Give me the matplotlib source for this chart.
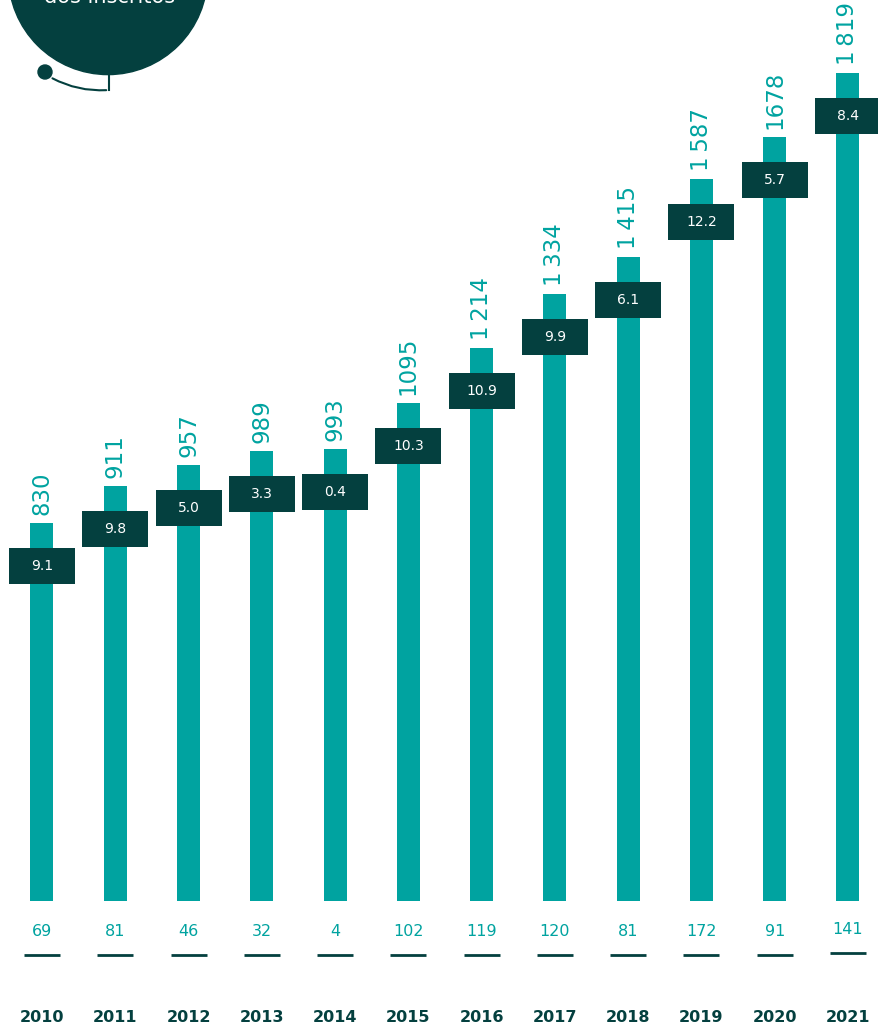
import numpy as np
import matplotlib.pyplot as plt
from matplotlib.patches import Circle, FancyArrowPatch

anos = ["2010", "2011", "2012", "2013", "2014", "2015", "2016", "2017", "2018", "2019", "2020", "2021"]
inscritos = [830, 911, 957, 989, 993, 1095, 1214, 1334, 1415, 1587, 1678, 1819]
rotulos = ["830", "911", "957", "989", "993", "1095", "1\u2009214", "1\u2009334", "1\u2009415",
           "1\u2009587", "1678", "1\u2009819"]
variacao = ["9.1", "9.8", "5.0", "3.3", "0.4", "10.3", "10.9", "9.9", "6.1", "12.2", "5.7", "8.4"]
novos = [69, 81, 46, 32, 4, 102, 119, 120, 81, 172, 91, 141]

TEAL = "#00a3a0"
DARK = "#04403f"

W, H = 879, 1026
fig = plt.figure(figsize=(W / 100, H / 100), dpi=100)
ax = fig.add_axes([0, 0, 1, 1])

# pixel geometry of the reference
step = 73.27
ppu = 0.4552  # pixels per unit
x0, base = 42, 901
ax.set_xlim(-x0 / step, (W - x0) / step)
ax.set_ylim(-(H - base) / ppu, base / ppu)
ax.axis("off")

x = np.arange(len(anos))
ax.bar(x, inscritos, width=23 / step, color=TEAL, zorder=1)

box_h = 36 / ppu
box_top = np.array(inscritos) - 25 / ppu
ax.bar(x, box_h, bottom=box_top - box_h, width=66 / step, color=DARK, zorder=2)

for i in range(len(anos)):
    ax.text(x[i], inscritos[i] + 8 / ppu, rotulos[i], rotation=90, ha="center", va="bottom",
            color=TEAL, fontsize=16.5, family="DejaVu Sans")
    ax.text(x[i], box_top[i] - box_h / 2, variacao[i], ha="center", va="center",
            color="white", fontsize=10)
    dy = 2 if i == len(anos) - 1 else 0
    ax.text(x[i], -(932 - dy - base) / ppu, str(novos[i]), ha="center", va="center",
            color=TEAL, fontsize=11.5)
    ax.hlines(-(955 - dy - base) / ppu, x[i] - 18 / step, x[i] + 18 / step, color=DARK, lw=2)
    ax.text(x[i], -(1017 - base) / ppu, anos[i], ha="center", va="center",
            color=DARK, fontsize=11.5, fontweight="heavy", family="DejaVu Sans")

# decorative circle at top left, in pixel coordinates
ov = fig.add_axes([0, 0, 1, 1])
ov.set_xlim(0, W)
ov.set_ylim(H, 0)
ov.axis("off")
ov.add_patch(Circle((108, -25), 99.6, color=DARK, zorder=3))
ov.add_patch(Circle((45, 72), 7, color=DARK, zorder=3))
ov.add_patch(FancyArrowPatch((50, 77), (109, 90), connectionstyle="arc3,rad=0.15",
                             arrowstyle="-", color=DARK, lw=1.5, zorder=3))
ov.plot([109, 109], [74, 90], color=DARK, lw=1.5, zorder=3)
ov.text(110, -3, "dos inscritos", ha="center", va="center", color="white",
        fontsize=15, zorder=4)

fig.savefig("out.png", dpi=100)
